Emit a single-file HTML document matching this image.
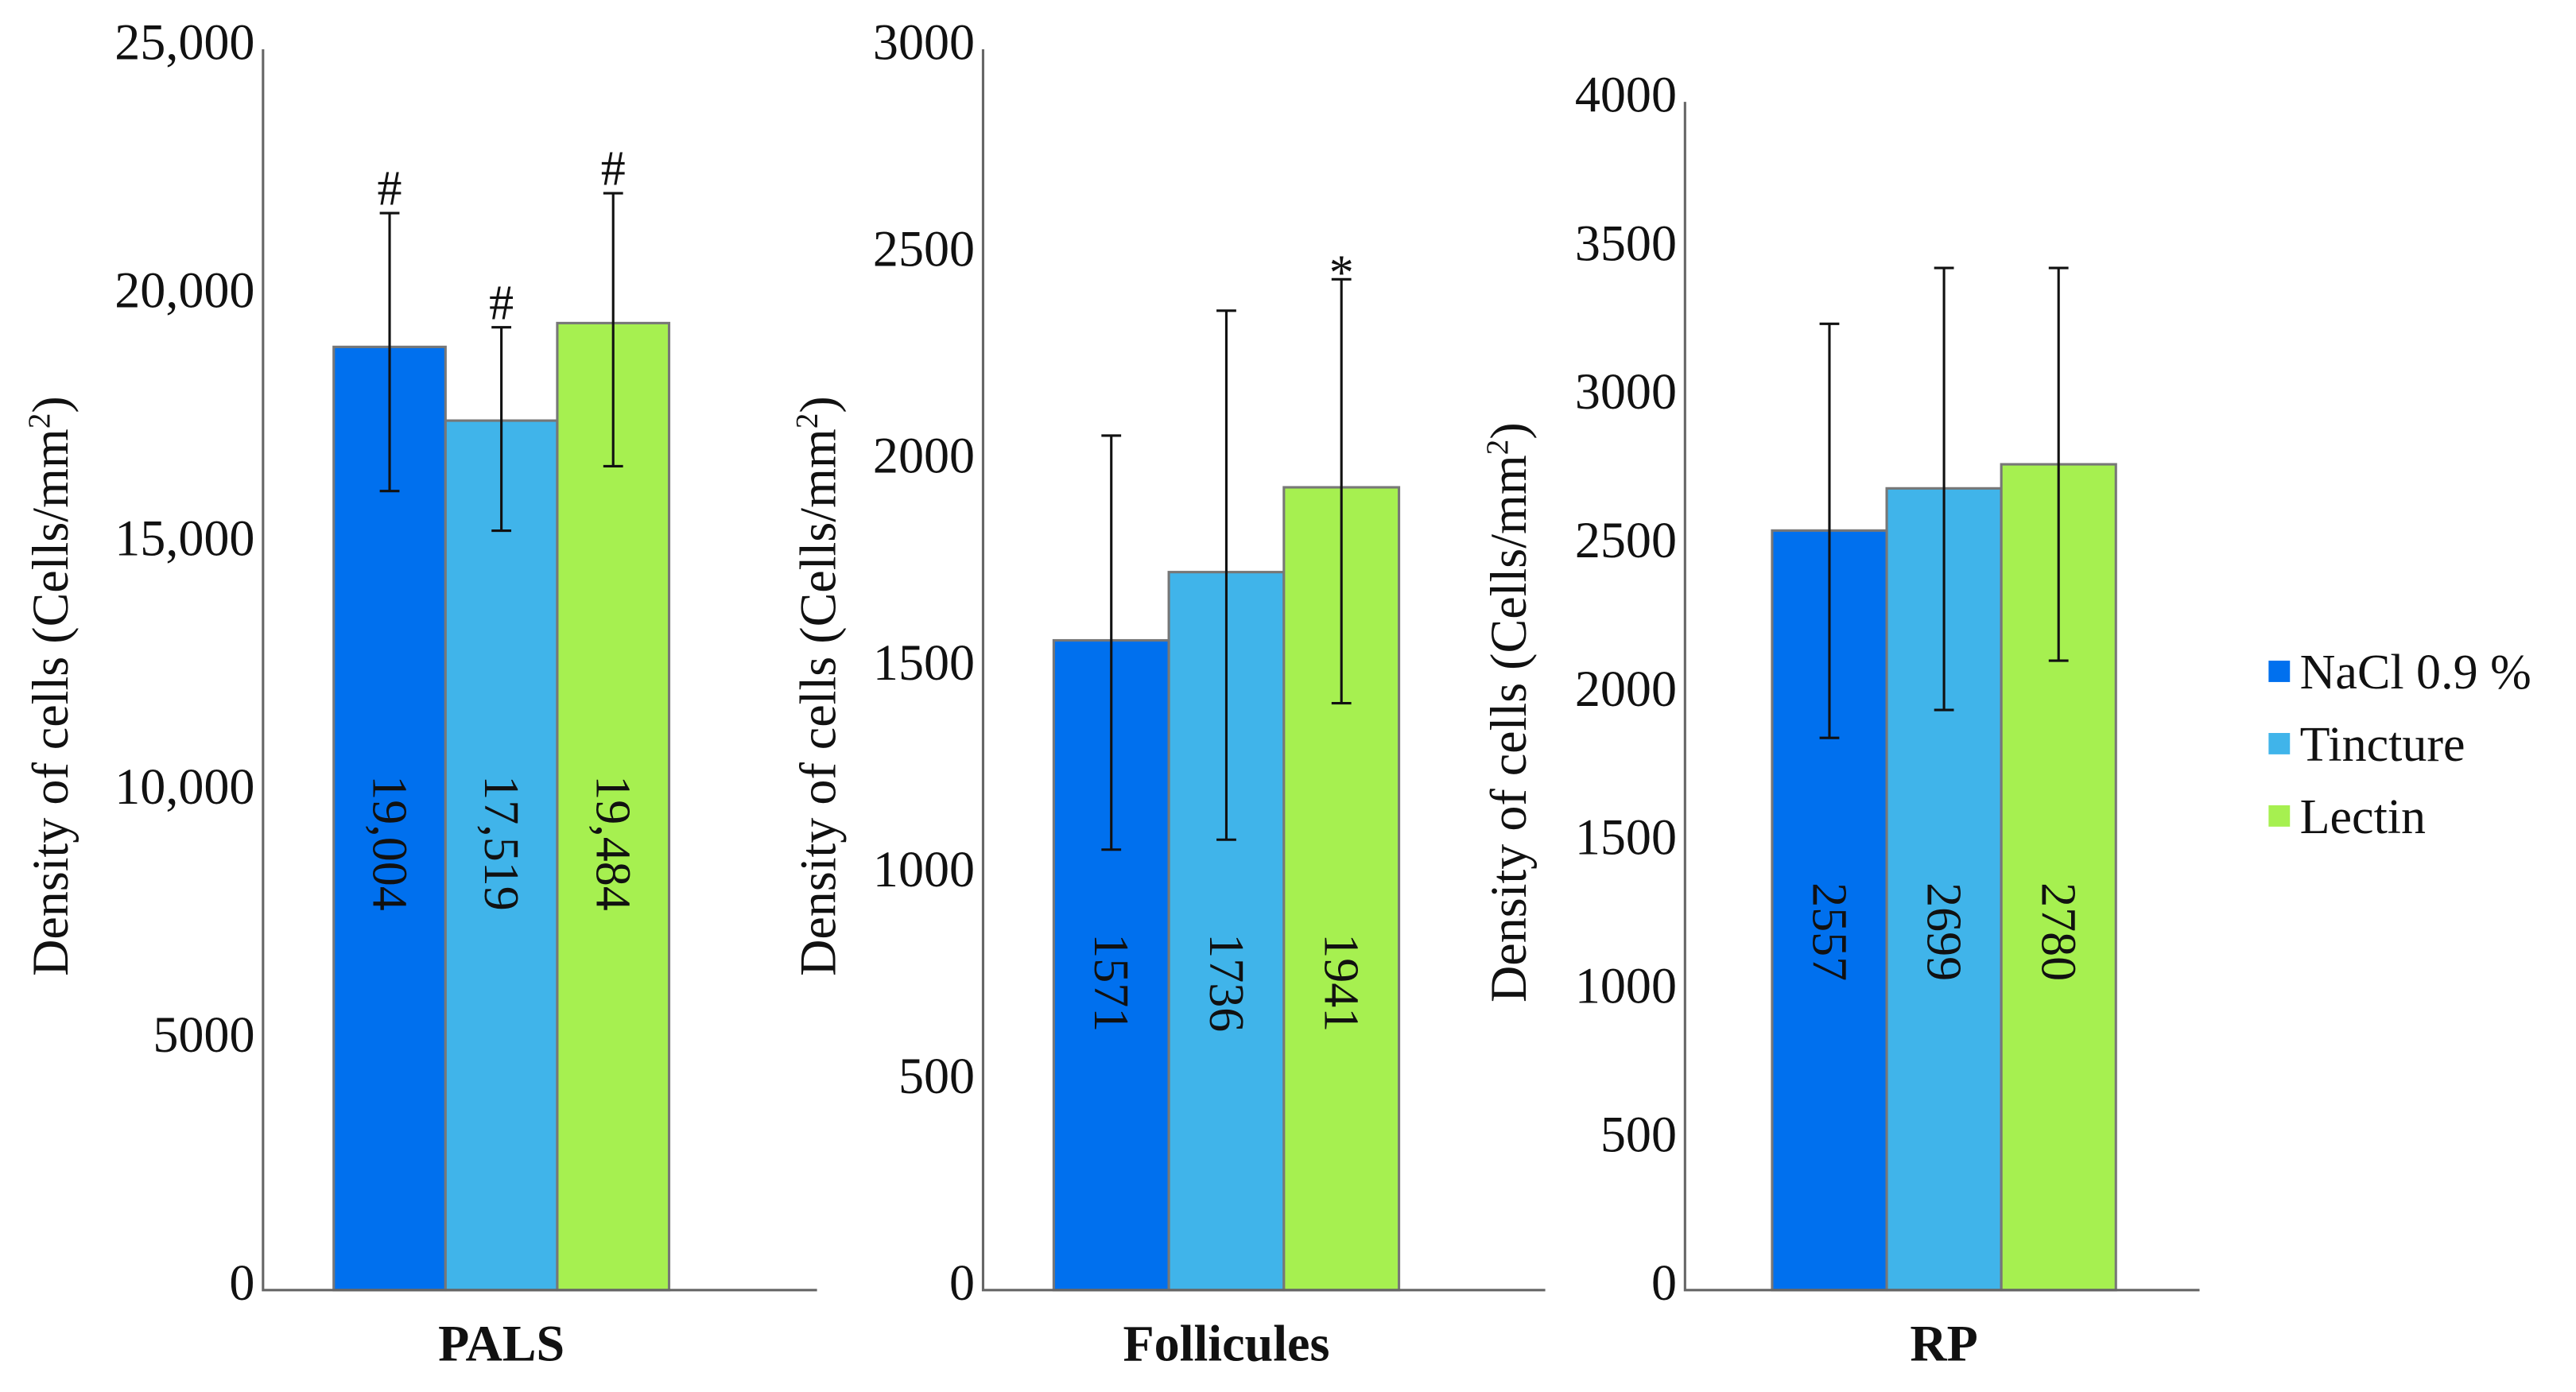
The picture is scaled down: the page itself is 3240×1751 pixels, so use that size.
<!DOCTYPE html>
<html><head><meta charset="utf-8"><style>
html,body{margin:0;padding:0;background:#fff;}
svg{display:block;font-family:"Liberation Serif",serif;}
</style></head><body>
<svg id="chart" width="3240" height="1751" viewBox="0 0 1567 847" preserveAspectRatio="none" xmlns="http://www.w3.org/2000/svg" font-family="Liberation Serif, serif"></svg>
<script>
const groups = ["NaCl 0.9 %", "Tincture", "Lectin"];
const colors = ["#0070ee", "#40b4ea", "#a6f050"];
const panelNames = ["PALS", "Follicules", "RP"];
const palsValues = [19004, 17519, 19484];
const palsLow = [16100, 15300, 16600];
const palsHigh = [21700, 19400, 22100];
const palsMarks = ["#", "#", "#"];
const palsTicks = [0, 5000, 10000, 15000, 20000, 25000];
const palsTickLabels = ["0", "5000", "10,000", "15,000", "20,000", "25,000"];
const palsLabels = ["19,004", "17,519", "19,484"];
const follValues = [1571, 1736, 1941];
const follLow = [1065, 1089, 1419];
const follHigh = [2066, 2368, 2444];
const follMarks = ["", "", "*"];
const follTicks = [0, 500, 1000, 1500, 2000, 2500, 3000];
const follTickLabels = ["0", "500", "1000", "1500", "2000", "2500", "3000"];
const rpValues = [2557, 2699, 2780];
const rpLow = [1859, 1953, 2119];
const rpHigh = [3253, 3441, 3441];
const rpMarks = ["", "", ""];
const rpTicks = [0, 500, 1000, 1500, 2000, 2500, 3000, 3500, 4000];
const rpTickLabels = ["0", "500", "1000", "1500", "2000", "2500", "3000", "3500", "4000"];

const NS = "http://www.w3.org/2000/svg";
const svg = document.getElementById("chart");
function mk(tag, attrs, parent) {
  const e = document.createElementNS(NS, tag);
  for (const k in attrs) e.setAttribute(k, attrs[k]);
  (parent || svg).appendChild(e);
  return e;
}
const FONT = "Liberation Serif, serif";
const layouts = [
  {ax: 160, top: 30, bottom: 785, right: 497, bar0: 203, bw: 68, max: 25000, titleX: 30, labelY: 513},
  {ax: 598, top: 30, bottom: 785, right: 940, bar0: 641, bw: 70, max: 3000, titleX: 497, labelY: 598},
  {ax: 1025, top: 62, bottom: 785, right: 1338, bar0: 1078, bw: 69.7, max: 4000, titleX: 917, labelY: 567}
];
const panelData = [
  [palsValues, palsLow, palsHigh, palsMarks, palsTicks, palsTickLabels, palsLabels],
  [follValues, follLow, follHigh, follMarks, follTicks, follTickLabels, follValues.map(String)],
  [rpValues, rpLow, rpHigh, rpMarks, rpTicks, rpTickLabels, rpValues.map(String)]
];
layouts.forEach((L, p) => {
  const [vals, lo, hi, marks, ticks, tickLabels, labels] = panelData[p];
  const y = v => L.bottom - v / L.max * (L.bottom - L.top);
  const g = mk("g", {"font-family": FONT});
  
  
  ticks.forEach((t, i) => {
    const tx = mk("text", {x: L.ax - 5, y: y(t) + 6, "text-anchor": "end", "font-size": 31, fill: "#111"}, g);
    
    
    tx.textContent = tickLabels[i];
  });
  const tt = mk("text", {transform: `translate(${L.titleX + 11},${(L.top + L.bottom) / 2 + 10}) rotate(-90)`, "text-anchor": "middle", "font-size": 31, fill: "#111"}, g);
  
  
  tt.innerHTML = 'Density of cells (Cells/mm<tspan dy="-11" font-size="19">2</tspan><tspan dy="11">)</tspan>';
  vals.forEach((v, i) => {
    const x = L.bar0 + i * L.bw;
    const r = mk("rect", {x: x, y: y(v), width: L.bw, height: L.bottom - y(v), fill: colors[i], stroke: "#777", "stroke-width": 1.5}, g);
    
    
    const cx = x + L.bw / 2;
    const eb = mk("path", {d: `M${cx},${y(lo[i])}V${y(hi[i])}M${cx - 6},${y(lo[i])}H${cx + 6}M${cx - 6},${y(hi[i])}H${cx + 6}`, stroke: "#111", "stroke-width": 1.5, fill: "none"}, g);
    
    
    if (marks[i]) {
      const m = mk("text", {x: cx, y: y(hi[i]) - (marks[i] === "*" ? -6 : 5), "text-anchor": "middle", "font-size": 30, fill: "#111"}, g);
      
      
      m.textContent = marks[i];
    }
    const vl = mk("text", {transform: `translate(${cx - 10},${L.labelY}) rotate(90)`, "text-anchor": "middle", "font-size": 30, fill: "#111"}, g);
    
    
    vl.textContent = labels[i];
  });
  const axes = mk("path", {d: `M${L.ax},${L.top}V${L.bottom}H${L.right}`, stroke: "#666", "stroke-width": 1.5, fill: "none"}, g);
  
  
  const cl = mk("text", {x: L.bar0 + 1.5 * L.bw, y: 828, "text-anchor": "middle", "font-size": 31, "font-weight": "bold", fill: "#111"}, g);
  
  
  cl.textContent = panelNames[p];
});
groups.forEach((name, i) => {
  const lg = mk("g", {"font-family": FONT});
  
  
  mk("rect", {x: 1380, y: 402 + i * 44, width: 13, height: 13, fill: colors[i]}, lg);
  const t = mk("text", {x: 1399, y: 419 + i * 44, "font-size": 30, fill: "#111"}, lg);
  t.textContent = name;
});
</script>
</body></html>
